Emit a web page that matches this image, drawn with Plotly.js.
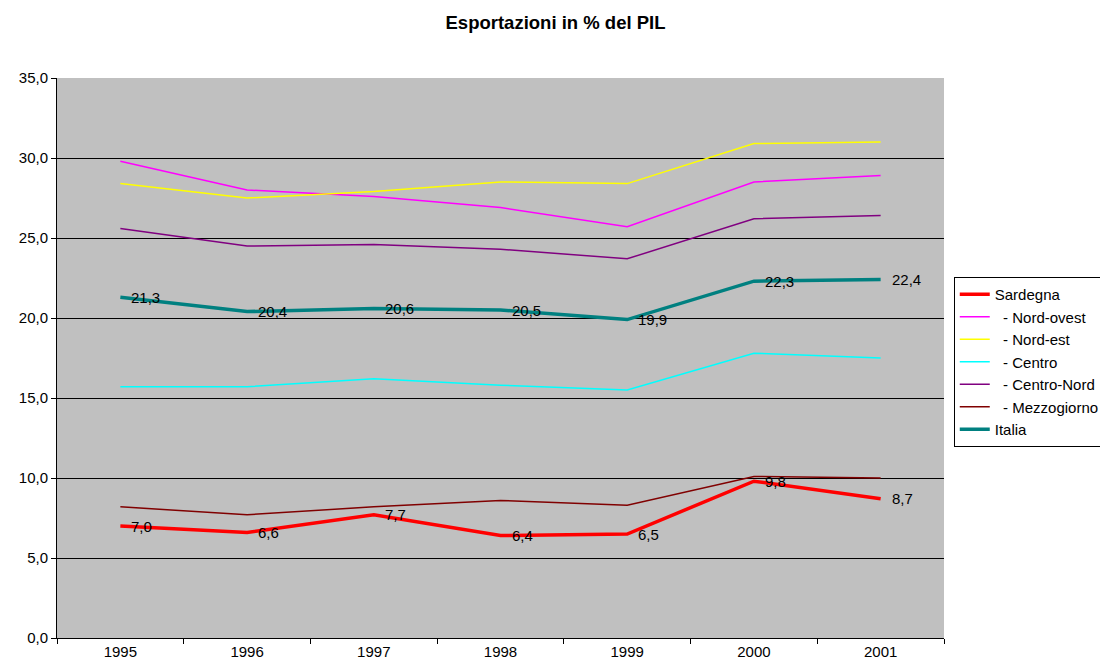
<!DOCTYPE html>
<html>
<head>
<meta charset="utf-8">
<script src="https://cdn.plot.ly/plotly-3.0.1.min.js"></script>
<style>
  body { margin: 0; background: #fff; }
  #chart { width: 1100px; height: 668px; }
</style>
</head>
<body>
<div id="chart"></div>
<script>
// years on the category axis
const anni = ["1995", "1996", "1997", "1998", "1999", "2000", "2001"];

// export as % of GDP
const sardegna    = [7.0, 6.6, 7.7, 6.4, 6.5, 9.8, 8.7];
const nordOvest   = [29.8, 28.0, 27.6, 26.9, 25.7, 28.5, 28.9];
const nordEst     = [28.4, 27.5, 27.9, 28.5, 28.4, 30.9, 31.0];
const centro      = [15.7, 15.7, 16.2, 15.8, 15.5, 17.8, 17.5];
const centroNord  = [25.6, 24.5, 24.6, 24.3, 23.7, 26.2, 26.4];
const mezzogiorno = [8.2, 7.7, 8.2, 8.6, 8.3, 10.1, 10.0];
const italia      = [21.3, 20.4, 20.6, 20.5, 19.9, 22.3, 22.4];

const sp = "\u00a0\u00a0- ";

function serie(nome, valori, colore, spessore) {
  return {
    x: anni, y: valori, name: nome, type: "scatter", mode: "lines",
    line: { color: colore, width: spessore }
  };
}

let data = [
  serie("Sardegna", sardegna, "#FF0000", 3.5),
  serie(sp + "Nord-ovest", nordOvest, "#FF00FF", 1.5),
  serie(sp + "Nord-est", nordEst, "#FFFF00", 1.5),
  serie(sp + "Centro", centro, "#00FFFF", 1.5),
  serie(sp + "Centro-Nord", centroNord, "#800080", 1.5),
  serie(sp + "Mezzogiorno", mezzogiorno, "#800000", 1.5),
  serie("Italia", italia, "#008080", 3.5)
];

// data labels (only Sardegna and Italia have them)
let etichette = [];
[sardegna, italia].forEach(arr => {
  arr.forEach((v, i) => {
    etichette.push({
      x: i, y: v, xref: "x", yref: "y",
      text: v.toFixed(1).replace(".", ","),
      showarrow: false, xanchor: "left", yanchor: "middle",
      xshift: 9, font: { size: 15, color: "#000" }
    });
  });
});

let layout = {
  width: 1100, height: 668,
  margin: { l: 57, r: 156, t: 78, b: 30, autoexpand: false },
  paper_bgcolor: "#ffffff",
  plot_bgcolor: "#C0C0C0",
  separators: ",.",
  font: { family: "Liberation Sans, Arial, sans-serif", size: 15, color: "#000" },
  title: {
    text: "<b>Esportazioni in % del PIL</b>",
    font: { size: 18.5 }, x: 0.505, xanchor: "center", y: 0.967, yanchor: "middle"
  },
  xaxis: {
    type: "category", range: [-0.5, 6.5],
    tickson: "boundaries", ticks: "outside", ticklen: 5, tickcolor: "#000",
    showline: true, linecolor: "#000", linewidth: 1,
    showgrid: false, zeroline: false, fixedrange: true
  },
  yaxis: {
    range: [0, 35], tickvals: [0, 5, 10, 15, 20, 25, 30, 35], tickformat: ".1f",
    ticks: "outside", ticklen: 5, tickcolor: "#000",
    showline: true, linecolor: "#000", linewidth: 1,
    showgrid: false, zeroline: false, fixedrange: true
  },
  // gridlines only (no line at the top edge)
  yaxis2: {
    overlaying: "y", range: [0, 35], tickvals: [5, 10, 15, 20, 25, 30],
    showticklabels: false, ticks: "", showgrid: true, gridcolor: "#000", gridwidth: 1,
    zeroline: false, showline: false, fixedrange: true
  },
  legend: {
    x: 1.011, xanchor: "left", y: 0.6446, yanchor: "top",
    bgcolor: "#fff", bordercolor: "#000", borderwidth: 1,
    font: { size: 15 }, traceorder: "normal"
  },
  annotations: etichette,
  showlegend: true
};

// dummy trace so yaxis2 is drawn
data.push({ x: anni, y: sardegna, yaxis: "y2", type: "scatter", mode: "lines",
  line: { width: 0 }, showlegend: false, hoverinfo: "skip" });

Plotly.newPlot("chart", data, layout, { displayModeBar: false, staticPlot: true });
</script>
</body>
</html>
